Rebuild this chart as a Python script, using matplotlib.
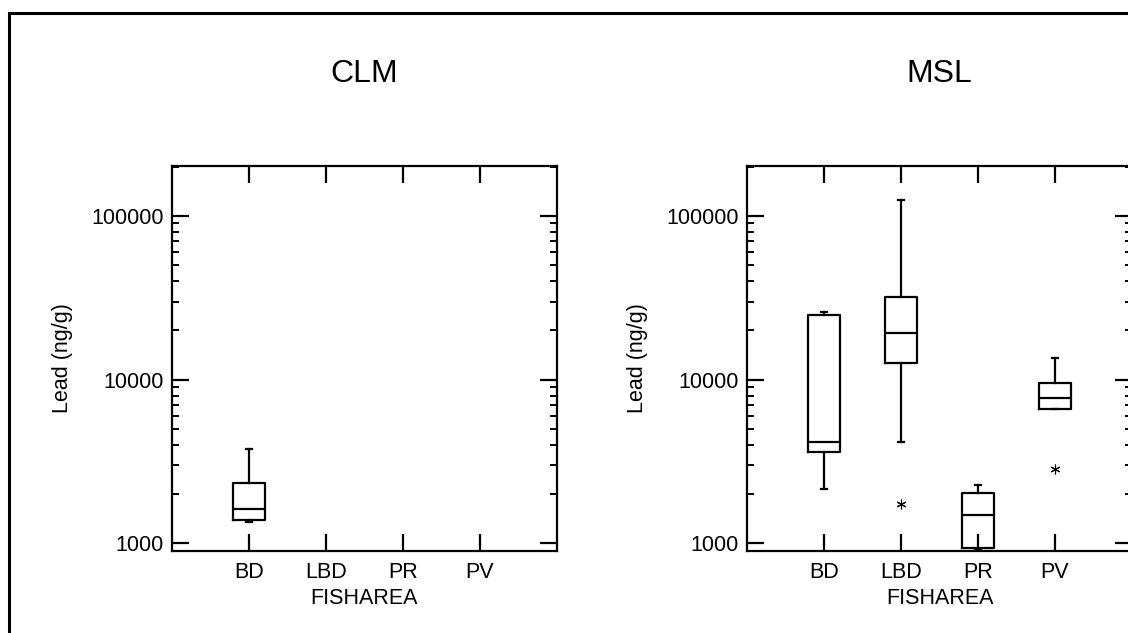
import matplotlib
matplotlib.use("Agg")
import matplotlib.pyplot as plt
from matplotlib.patches import Rectangle
from matplotlib.ticker import LogLocator, NullFormatter

plt.rcParams['font.family'] = ['Liberation Sans', 'DejaVu Sans']

# Fish sampling areas (x categories)
areas = ["BD", "LBD", "PR", "PV"]

# Lead (ng/g) box statistics, CLM site (only BD sampled)
clm_areas = ["BD"]
clm_q1 = [1389]
clm_med = [1622]
clm_q3 = [2326]
clm_lo = [1356]
clm_hi = [3770]
clm_out = [[]]

# Lead (ng/g) box statistics, MSL site
msl_areas = ["BD", "LBD", "PR", "PV"]
msl_q1 = [3615, 12700, 941, 6650]
msl_med = [4140, 19200, 1489, 7730]
msl_q3 = [24800, 31800, 2019, 9500]
msl_lo = [2147, 4180, 923, 6650]
msl_hi = [26000, 125400, 2270, 13600]
msl_out = [[], [1730], [], [2845]]

yticks = [1000, 10000, 100000]
ytick_labels = ["1000", "10000", "100000"]

W, H = 1128, 633
fig = plt.figure(figsize=(W / 100, H / 100), dpi=100)

# outer frame
fig.add_artist(Rectangle((9 / W, -0.2), 1.5, 1 - 13 / H + 0.2,
                         transform=fig.transFigure, fill=False,
                         lw=2.2, edgecolor="black", clip_on=False))

panels = [
    ("CLM", 172, clm_areas, clm_q1, clm_med, clm_q3, clm_lo, clm_hi, clm_out),
    ("MSL", 747, msl_areas, msl_q1, msl_med, msl_q3, msl_lo, msl_hi, msl_out),
]

for title, left_px, cats, q1, med, q3, lo, hi, out in panels:
    ax = fig.add_axes([left_px / W, (H - 551) / H, 385 / W, 385 / H])
    stats = []
    pos = []
    for c, a, m, b, l, h, f in zip(cats, q1, med, q3, lo, hi, out):
        stats.append(dict(q1=a, med=m, q3=b, whislo=l, whishi=h, fliers=f))
        pos.append(areas.index(c) + 1)
    lw = 1.6
    ax.bxp(stats, positions=pos, widths=0.42, capwidths=0.09,
           showfliers=True,
           boxprops=dict(color="black", lw=lw),
           medianprops=dict(color="black", lw=lw),
           whiskerprops=dict(color="black", lw=lw),
           capprops=dict(color="black", lw=lw),
           flierprops=dict(marker=(6, 2, 0), markersize=7,
                           markeredgecolor="black", markeredgewidth=0.8,
                           linestyle="none"))
    ax.set_yscale("log")
    ax.set_ylim(898, 201800)
    ax.set_xlim(0, 5)
    ax.set_xticks(range(1, len(areas) + 1))
    ax.set_xticklabels(areas)
    ax.set_yticks(yticks)
    ax.set_yticklabels(ytick_labels)
    ax.yaxis.set_minor_locator(LogLocator(base=10, subs=range(2, 10)))
    ax.yaxis.set_minor_formatter(NullFormatter())
    ax.tick_params(which="major", direction="in", length=12.5, width=1.6,
                   top=True, right=True, labelsize=15.5, color="black")
    ax.tick_params(axis="x", which="major", pad=8)
    ax.tick_params(axis="y", which="major", pad=6)
    ax.tick_params(which="minor", direction="in", length=5, width=1.4,
                   right=True, left=True)
    ax.tick_params(axis="x", which="minor", bottom=False, top=False)
    for s in ax.spines.values():
        s.set_linewidth(1.6)
    ax.set_xlabel("FISHAREA", fontsize=15.5)
    ax.xaxis.set_label_coords(0.5, -0.096)
    ax.set_ylabel("Lead (ng/g)", fontsize=15.5)
    ax.yaxis.set_label_coords(-0.257, 0.5)
    ax.text(0.5, 1 + 92 / 385, title, transform=ax.transAxes,
            ha="center", va="center", fontsize=23)

fig.savefig("out.png", dpi=100)
